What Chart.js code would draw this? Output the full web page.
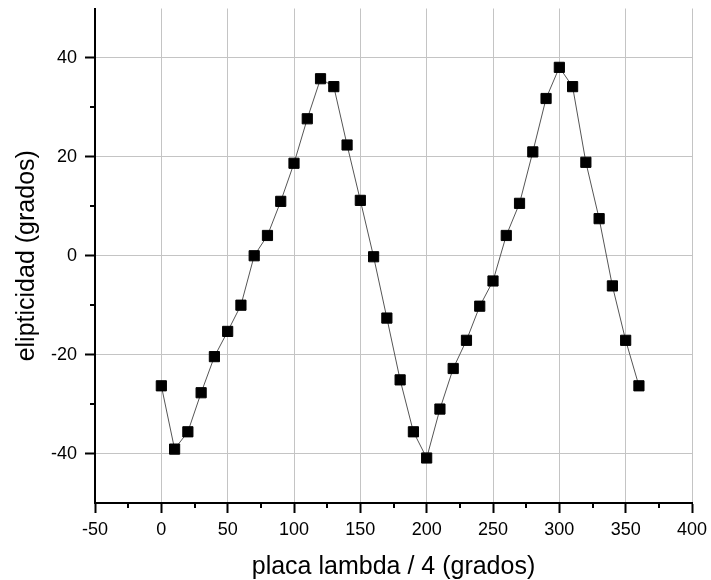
<!DOCTYPE html>
<html>
<head>
<meta charset="utf-8">
<script src="https://cdn.jsdelivr.net/npm/chart.js@4/dist/chart.umd.min.js"></script>
<style>
  html, body { margin: 0; padding: 0; background: #fff; }
  #wrap { width: 711px; height: 580px; }
</style>
</head>
<body>
<div id="wrap"><canvas id="elipChart" width="711" height="580"></canvas></div>
<script>
// data
const angles = [0, 10, 20, 30, 40, 50, 60, 70, 80, 90, 100, 110, 120, 130, 140, 150, 160, 170, 180,
    190, 200, 210, 220, 230, 240, 250, 260, 270, 280, 290, 300, 310, 320, 330, 340, 350, 360];
const ellipticity = [-26.3, -39.1, -35.6, -27.7, -20.4, -15.3, -10.0, 0.0, 4.1, 11.0, 18.7, 27.7, 35.8,
    34.2, 22.4, 11.2, -0.2, -12.6, -25.1, -35.6, -40.9, -31.0, -22.8, -17.1, -10.2, -5.1, 4.1, 10.6,
    21.0, 31.8, 38.1, 34.2, 18.9, 7.5, -6.1, -17.1, -26.3];
const xTicks = [-50, 0, 50, 100, 150, 200, 250, 300, 350, 400];
const yTicks = [-40, -20, 0, 20, 40];

const points = angles.map((a, i) => ({ x: a, y: ellipticity[i] }));

// small tick marks between the labelled ones
const minorTicks = {
    id: 'minorTicks',
    afterDraw(chart) {
        const ctx = chart.ctx;
        const xs = chart.scales.x, ys = chart.scales.y;
        ctx.save();
        ctx.strokeStyle = '#000';
        ctx.lineWidth = 2;
        ctx.beginPath();
        for (let v = -25; v < 400; v += 50) {
            const px = Math.round(xs.getPixelForValue(v));
            ctx.moveTo(px, xs.top);
            ctx.lineTo(px, xs.top + 5);
        }
        for (let v = -30; v <= 30; v += 20) {
            const py = Math.round(ys.getPixelForValue(v));
            ctx.moveTo(ys.right, py);
            ctx.lineTo(ys.right - 5, py);
        }
        ctx.stroke();
        ctx.restore();
    }
};

const tickFont = { family: 'Liberation Sans', size: 18 };
const titleFont = { family: 'Liberation Sans', size: 25, lineHeight: 1 };

new Chart(document.getElementById('elipChart'), {
    type: 'scatter',
    data: {
        datasets: [{
            data: points,
            showLine: true,
            borderColor: '#555',
            borderWidth: 1,
            pointStyle: 'rect',
            pointRadius: 7.2,
            pointHoverRadius: 7.2,
            pointBackgroundColor: '#000',
            pointBorderColor: '#000',
            pointBorderWidth: 1
        }]
    },
    options: {
        responsive: false,
        animation: false,
        plugins: {
            legend: { display: false },
            tooltip: { enabled: false }
        },
        layout: { padding: { top: 8.5, right: 19, left: 0, bottom: 0 } },
        scales: {
            x: {
                type: 'linear',
                min: -50,
                max: 400,
                afterBuildTicks: s => { s.ticks = xTicks.map(v => ({ value: v })); },
                afterFit: s => { s.height = 77; s.paddingLeft = 0; s.paddingRight = 0; },
                grid: { color: '#c4c4c4', lineWidth: 1, tickColor: '#000', tickLength: 10, tickWidth: 2 },
                border: { display: true, color: '#000', width: 2 },
                ticks: { color: '#000', font: tickFont, padding: 6, maxRotation: 0 },
                title: {
                    display: true,
                    text: 'placa lambda / 4 (grados)',
                    color: '#000',
                    font: titleFont,
                    padding: { top: 6, bottom: 0 }
                }
            },
            y: {
                type: 'linear',
                min: -50,
                max: 50,
                afterBuildTicks: s => { s.ticks = yTicks.map(v => ({ value: v })); },
                afterFit: s => { s.width = 95; s.paddingTop = 0; s.paddingBottom = 0; },
                grid: { color: '#c4c4c4', lineWidth: 1, tickColor: '#000', tickLength: 10, tickWidth: 2 },
                border: { display: true, color: '#000', width: 2 },
                ticks: { color: '#000', font: tickFont, padding: 8 },
                title: {
                    display: true,
                    text: 'elipticidad (grados)',
                    color: '#000',
                    font: titleFont,
                    padding: { top: 15, bottom: 6 }
                }
            }
        }
    },
    plugins: [minorTicks]
});
</script>
</body>
</html>
